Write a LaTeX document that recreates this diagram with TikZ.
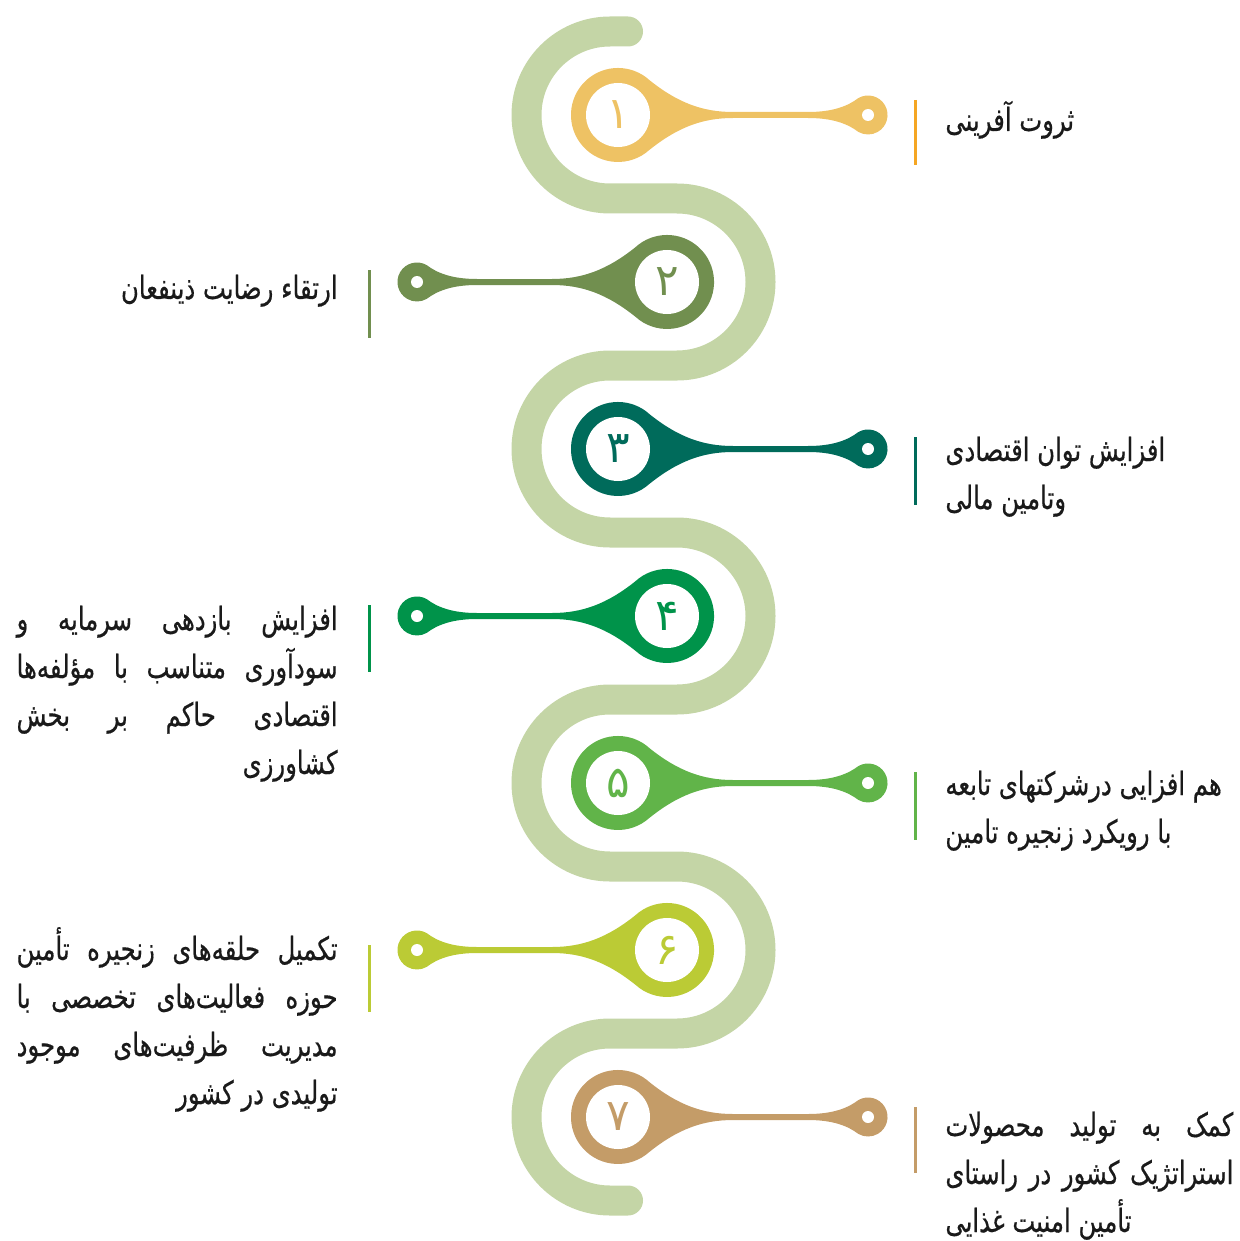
\documentclass[tikz,border=0pt]{standalone}
\usepackage{fontspec}
\usepackage{xcolor}
\usepackage{tikz}
\usetikzlibrary{positioning}
\TeXXeTstate=1
\newfontfamily\arabicfont[Script=Arabic,FakeStretch=0.76,FakeBold=0.5]{DejaVu Sans}
\newfontfamily\digitfont[Script=Arabic]{DejaVu Sans}

\definecolor{trackgreen}{HTML}{C4D5A6}
\definecolor{txt}{HTML}{1A1A1A}
\definecolor{c1}{HTML}{EEC264}
\definecolor{c1bar}{HTML}{F5A623}
\definecolor{c2}{HTML}{718F4F}
\definecolor{c3}{HTML}{006B5B}
\definecolor{c4}{HTML}{00934A}
\definecolor{c5}{HTML}{61B449}
\definecolor{c6}{HTML}{BBCB35}
\definecolor{c7}{HTML}{C49C68}

\newcommand\rline[1]{\beginR#1\endR}
\newcommand\jline[2]{\hbox to #1{\beginR#2\endR}}

\tikzset{
  label text/.style={font=\arabicfont\fontsize{16}{24}\selectfont,text=txt,inner sep=0pt},
  bar/.style={line width=1.5pt},
  track/.style={trackgreen,line width=15pt,line cap=round},
  pics/drop/.style={code={
    \fill (31.4,-34.9) .. controls (60,-12) and (85,-3) .. (115,-3) -- (190,-3)
      .. controls (215,-3) and (230,-9) .. (240.3,-16.9) arc (-120:120:19.5)
      .. controls (230,9) and (215,3) .. (190,3) -- (115,3)
      .. controls (85,3) and (60,12) .. (31.4,34.9) arc (48:312:47) -- cycle;
    \fill[white] (0,0) circle (32);
    \fill[white] (250,0) circle (6);
    \node[font=\digitfont\fontsize{22}{22}\selectfont,inner sep=0pt] (num) at (0,0) {#1};
  }}
}

\begin{document}
\begin{tikzpicture}[x=0.5pt,y=-0.5pt]
  \useasboundingbox (0,0) rectangle (1239,1241);
  % serpentine track
  \draw[track] (628,31.5) -- (610,31.5)
    arc (270:90:83.5) -- (677,198.5) arc (-90:90:83.5)
    -- (610,365.5) arc (270:90:83.5) -- (677,532.5) arc (-90:90:83.5)
    -- (610,699.5) arc (270:90:83.5) -- (677,866.5) arc (-90:90:83.5)
    -- (610,1033.5) arc (270:90:83.5) -- (628,1200.5);

  % drops
  \pic[color=c1] (d1) at (618,115) {drop=۱};
  \pic[color=c2,xscale=-1] (d2) at (667,282) {drop=۲};
  \pic[color=c3] (d3) at (618,449) {drop=۳};
  \pic[color=c4,xscale=-1] (d4) at (667,616) {drop=۴};
  \pic[color=c5] (d5) at (618,783) {drop=۵};
  \pic[color=c6,xscale=-1] (d6) at (667,950) {drop=۶};
  \pic[color=c7] (d7) at (618,1117) {drop=۷};

  % bars
  \draw[bar,c1bar] (915,100) -- (915,165);
  \draw[bar,c2] (369,270) -- (369,338);
  \draw[bar,c3] (915,437) -- (915,505);
  \draw[bar,c4] (369,605) -- (369,672);
  \draw[bar,c5] (915,772) -- (915,840);
  \draw[bar,c6] (369,945) -- (369,1012);
  \draw[bar,c7] (915,1107) -- (915,1173);

  % texts (anchored at the baseline of the last line)
  \node[label text,anchor=base west,align=left] (t1) at (945,131)
    {\rline{ثروت آفرینی}};
  \node[label text,anchor=base east,align=right] (t2) at (338,299)
    {\rline{ارتقاء رضایت ذینفعان}};
  \node[label text,anchor=base west,align=left] (t3) at (945,509)
    {\rline{افزایش توان اقتصادی}\\ \rline{وتامین مالی}};
  \node[label text,anchor=base east,align=right] (t4) at (338,774)
    {\jline{160.5pt}{افزایش \hfil بازدهی \hfil سرمایه \hfil و}\\
     \jline{160.5pt}{سودآوری \hfil متناسب \hfil با \hfil مؤلفه‌ها}\\
     \jline{160.5pt}{اقتصادی \hfil حاکم \hfil بر \hfil بخش}\\
     \rline{کشاورزی}};
  \node[label text,anchor=base west,align=left] (t5) at (945,843)
    {\rline{هم افزایی درشرکتهای تابعه}\\ \rline{با رویکرد زنجیره تامین}};
  \node[label text,anchor=base east,align=right] (t6) at (338,1104)
    {\jline{160.5pt}{تکمیل \hfil حلقه‌های \hfil زنجیره \hfil تأمین}\\
     \jline{160.5pt}{حوزه \hfil فعالیت‌های \hfil تخصصی \hfil با}\\
     \jline{160.5pt}{مدیریت \hfil ظرفیت‌های \hfil موجود}\\
     \rline{تولیدی در کشور}};
  \node[label text,anchor=base west,align=left] (t7) at (945,1232)
    {\jline{144pt}{کمک \hfil به \hfil تولید \hfil محصولات}\\
     \jline{144pt}{استراتژیک \hfil کشور \hfil در \hfil راستای}\\
     \rline{تأمین امنیت غذایی}};
\end{tikzpicture}
\end{document}
